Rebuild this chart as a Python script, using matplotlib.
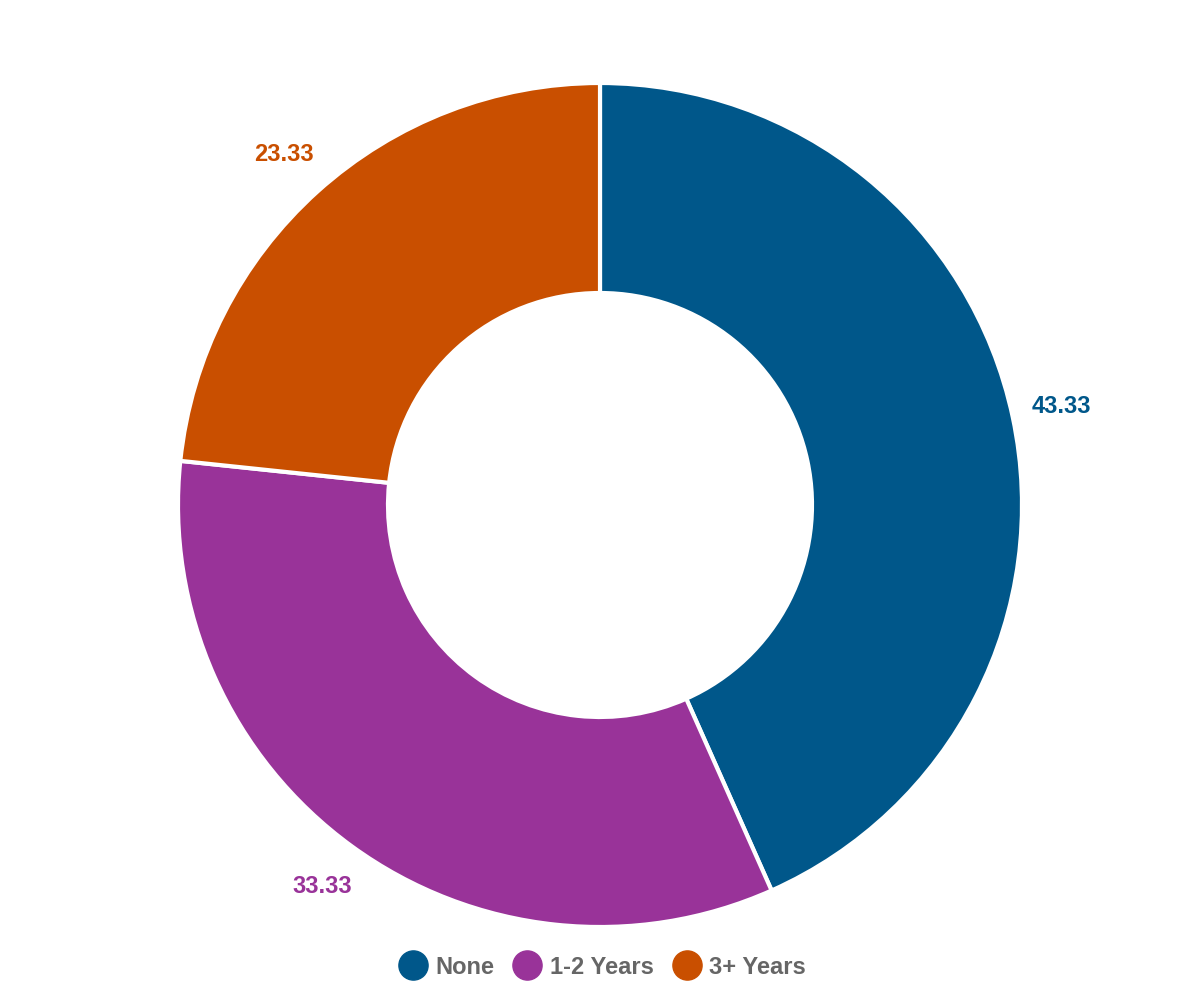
import numpy as np
import matplotlib
matplotlib.use('Agg')
import matplotlib.pyplot as plt
from matplotlib.lines import Line2D

# Данные
categories = ['None', '1-2 Years', '3+ Years']
values = [43.33, 33.33, 23.33]
colors = ['#00578A', '#993399', '#C94F00']

plt.rcParams['font.family'] = ['Liberation Sans', 'DejaVu Sans']

fig = plt.figure(figsize=(12, 10), dpi=100)
ax = fig.add_axes([0, 0, 1, 1])

cx, cy = 600, 495
r_out, r_in = 422, 212

ax.pie(values, colors=colors, startangle=90, counterclock=False,
       radius=r_out, center=(cx, cy), frame=True,
       wedgeprops=dict(width=r_out - r_in, edgecolor='white', linewidth=3))
ax.set_xlim(0, 1200)
ax.set_ylim(0, 1000)
ax.set_aspect('equal')
ax.axis('off')

# Подписи значений снаружи кольца
total = sum(values)
start = 90.0
for v, c in zip(values, colors):
    mid = np.deg2rad(start - v / total * 360 / 2)
    start -= v / total * 360
    x = cx + 472 * np.cos(mid)
    y = cy + 472 * np.sin(mid)
    ax.text(x, y, f'{v:.2f}', color=c, fontsize=17, fontweight='bold',
            ha='center', va='center')

handles = [Line2D([0], [0], marker='o', linestyle='', markersize=21,
                  markerfacecolor=c, markeredgecolor=c) for c in colors]
ax.legend(handles, categories, loc='center', bbox_to_anchor=(0.5, 0.033),
          ncol=3, frameon=False, handletextpad=0.15, columnspacing=0.6,
          handlelength=1.6, prop=dict(size=17, weight='bold'), labelcolor='#666666')

fig.savefig('out.png', dpi=100)
